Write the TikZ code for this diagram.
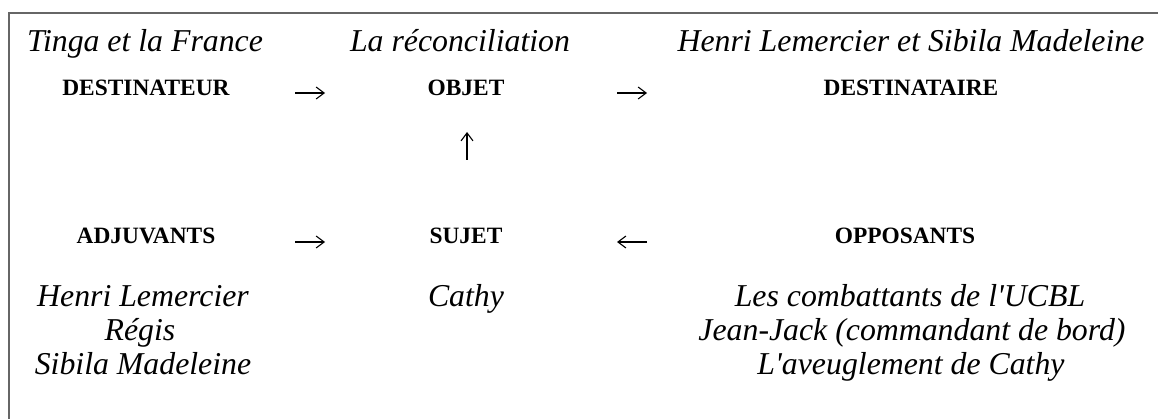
\documentclass[tikz,border=0pt]{standalone}
\usepackage{fontspec}
\setmainfont{Liberation Serif}
\usetikzlibrary{arrows.meta}
\begin{document}
\begin{tikzpicture}[x=1pt,y=-1pt,
  it/.style={font=\fontsize{31.8}{34}\selectfont\itshape, inner sep=0pt, anchor=base},
  role/.style={font=\fontsize{23.4}{25}\selectfont\bfseries, inner sep=0pt, anchor=base},
  arr/.style={line width=1.1pt, -{Straight Barb[length=8pt,width=12pt]}},
  frameline/.style={draw=black!60, line width=1.2pt}]
\useasboundingbox (0,0) rectangle (1158,419);
\coordinate (ftr) at (1158,13);
\coordinate (ftl) at (9,13);
\coordinate (fbl) at (9,419);
\draw[frameline] (ftr) -- (ftl) -- (fbl);

% top row
\node[it] (tinga) at (145,52) {Tinga et la France};
\node[it] (reco) at (460,52) {La réconciliation};
\node[it] (henrisib) at (911,52) {Henri Lemercier et Sibila Madeleine};
\node[role] (destr) at (146,96) {DESTINATEUR};
\node[role] (objet) at (466,96) {OBJET};
\node[role] (desta) at (911,96) {DESTINATAIRE};

% bottom row
\node[role] (adj) at (146,244) {ADJUVANTS};
\node[role] (sujet) at (466,244) {SUJET};
\node[role] (opp) at (905,244) {OPPOSANTS};

\node[it] (adj1) at (143,306) {Henri Lemercier};
\node[it] (adj2) at (140,340) {Régis};
\node[it] (adj3) at (143,374) {Sibila Madeleine};
\node[it] (cathy) at (466,306) {Cathy};
\node[it] (opp1) at (910,306) {Les combattants de l\textquotesingle UCBL};
\node[it] (opp2) at (912,340) {Jean-Jack (commandant de bord)};
\node[it] (opp3) at (911,374) {L\textquotesingle aveuglement de Cathy};

% arrows
\coordinate (a1s) at (295,93); \coordinate (a1e) at (325,93);
\coordinate (a2s) at (617,93); \coordinate (a2e) at (647,93);
\coordinate (a3s) at (467,160); \coordinate (a3e) at (467,132);
\coordinate (a4s) at (295,242); \coordinate (a4e) at (325,242);
\coordinate (a5s) at (647,242); \coordinate (a5e) at (617,242);
\draw[arr] (a1s) -- (a1e);
\draw[arr] (a2s) -- (a2e);
\draw[arr] (a3s) -- (a3e);
\draw[arr] (a4s) -- (a4e);
\draw[arr] (a5s) -- (a5e);
\end{tikzpicture}
\end{document}
